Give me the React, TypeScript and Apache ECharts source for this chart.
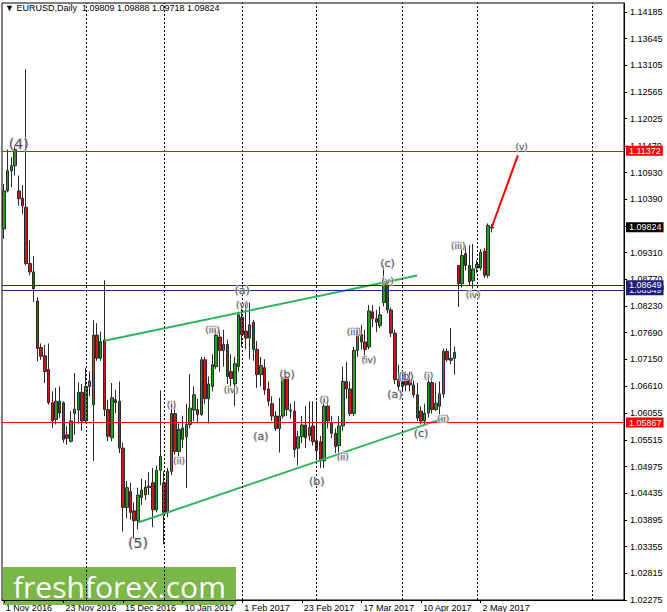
import React, { useEffect, useRef } from "react";
import * as echarts from "echarts";

const symbolName = "EURUSD,Daily";
const firstDay = [2016, 10, 1];
const holidays = ["2016-12-26", "2017-01-02"];
const totalSlots = 167;
const labelEvery = 16;

const opens = [
  1.0979, 1.1056, 1.1097, 1.1107, 1.1056, 1.1041, 1.1023, 1.0909, 1.0892, 1.0833,
  1.0739, 1.0722, 1.0694, 1.0627, 1.0593, 1.0630, 1.0627, 1.0562, 1.0549, 1.0605,
  1.0612, 1.0648, 1.0590, 1.0660, 1.0623, 1.0764, 1.0717, 1.0754, 1.0613, 1.0556,
  1.0633, 1.0630, 1.0535, 1.0415, 1.0447, 1.0408, 1.0388, 1.0435, 1.0440, 1.0455,
  1.0465, 1.0410, 1.0490, 1.0465, 1.0405, 1.0488, 1.0605, 1.0528, 1.0553, 1.0558,
  1.0583, 1.0612, 1.0613, 1.0603, 1.0714, 1.0635, 1.0660, 1.0700, 1.0760, 1.0733,
  1.0745, 1.0690, 1.0665, 1.0700, 1.0800, 1.0772, 1.0758, 1.0790, 1.0735, 1.0684,
  1.0698, 1.0655, 1.0625, 1.0600, 1.0575, 1.0600, 1.0677, 1.0610, 1.0610, 1.0535,
  1.0558, 1.0582, 1.0560, 1.0580, 1.0550, 1.0548, 1.0509, 1.0620, 1.0585, 1.0565,
  1.0540, 1.0580, 1.0670, 1.0655, 1.0605, 1.0733, 1.0765, 1.0750, 1.0740, 1.0811,
  1.0797, 1.0783, 1.0830, 1.0867, 1.0815, 1.0768, 1.0674, 1.0660, 1.0672, 1.0673,
  1.0663, 1.0643, 1.0610, 1.0590, 1.0606, 1.0668, 1.0613, 1.0620, 1.0645, 1.0731,
  1.0717, 1.0717, 1.0905, 1.0868, 1.0929, 1.0905, 1.0874, 1.0900, 1.0900, 1.0934,
  1.0885, 1.09809,
];
const highs = [
  1.1070, 1.1140, 1.1124, 1.1150, 1.1087, 1.1068, 1.1302, 1.0956, 1.0924, 1.0841,
  1.0747, 1.0744, 1.0747, 1.0650, 1.0657, 1.0660, 1.0630, 1.0580, 1.0610, 1.0687,
  1.0668, 1.0665, 1.0697, 1.0690, 1.0794, 1.0788, 1.0771, 1.0875, 1.0633, 1.0667,
  1.0653, 1.0670, 1.0546, 1.0468, 1.0465, 1.0425, 1.0455, 1.0473, 1.0470, 1.0486,
  1.0495, 1.0500, 1.0652, 1.0488, 1.0495, 1.0625, 1.0620, 1.0585, 1.0600, 1.0625,
  1.0685, 1.0660, 1.0635, 1.0720, 1.0720, 1.0680, 1.0725, 1.0775, 1.0775, 1.0775,
  1.0755, 1.0725, 1.0720, 1.0811, 1.0829, 1.0830, 1.0830, 1.0795, 1.0752, 1.0720,
  1.0715, 1.0670, 1.0640, 1.0610, 1.0637, 1.0680, 1.0680, 1.0625, 1.0630, 1.0570,
  1.0600, 1.0620, 1.0630, 1.0630, 1.0630, 1.0560, 1.0635, 1.0630, 1.0600, 1.0575,
  1.0600, 1.0700, 1.0710, 1.0670, 1.0740, 1.0780, 1.0785, 1.0775, 1.0825, 1.0825,
  1.0815, 1.0822, 1.0905, 1.0875, 1.0820, 1.0775, 1.0704, 1.0690, 1.0690, 1.0690,
  1.0672, 1.0667, 1.0620, 1.0625, 1.0678, 1.0677, 1.0667, 1.0670, 1.0737, 1.0737,
  1.0778, 1.0741, 1.0905, 1.0940, 1.0945, 1.0946, 1.0949, 1.0915, 1.0938, 1.0940,
  1.0990, 1.09888,
];
const lows = [
  1.0959, 1.1053, 1.1063, 1.1087, 1.1026, 1.1009, 1.0905, 1.0885, 1.0831, 1.0711,
  1.0714, 1.0667, 1.0623, 1.0576, 1.0583, 1.0596, 1.0546, 1.0542, 1.0546, 1.0562,
  1.0585, 1.0570, 1.0588, 1.0640, 1.0509, 1.0712, 1.0712, 1.0600, 1.0549, 1.0549,
  1.0606, 1.0525, 1.0366, 1.0393, 1.0390, 1.0352, 1.0370, 1.0420, 1.0430, 1.0440,
  1.0375, 1.0405, 1.0460, 1.0340, 1.0395, 1.0480, 1.0522, 1.0518, 1.0535, 1.0454,
  1.0575, 1.0590, 1.0585, 1.0600, 1.0625, 1.0585, 1.0650, 1.0695, 1.0690, 1.0700,
  1.0665, 1.0660, 1.0620, 1.0690, 1.0740, 1.0735, 1.0715, 1.0712, 1.0657, 1.0660,
  1.0643, 1.0620, 1.0590, 1.0570, 1.0526, 1.0595, 1.0600, 1.0595, 1.0516, 1.0500,
  1.0545, 1.0535, 1.0550, 1.0540, 1.0515, 1.0495, 1.0495, 1.0575, 1.0555, 1.0525,
  1.0525, 1.0570, 1.0635, 1.0600, 1.0600, 1.0720, 1.0735, 1.0715, 1.0735, 1.0780,
  1.0770, 1.0778, 1.0822, 1.0808, 1.0760, 1.0665, 1.0650, 1.0650, 1.0650, 1.0650,
  1.0637, 1.0590, 1.0583, 1.0583, 1.0597, 1.0605, 1.0610, 1.0603, 1.0637, 1.0710,
  1.0705, 1.0684, 1.0821, 1.0860, 1.0895, 1.0865, 1.0858, 1.0890, 1.0895, 1.0880,
  1.0880, 1.09718,
];
const closes = [
  1.1056, 1.1097, 1.1107, 1.1140, 1.1040, 1.1026, 1.0909, 1.0892, 1.0858, 1.0737,
  1.0721, 1.0690, 1.0627, 1.0590, 1.0630, 1.0606, 1.0553, 1.0555, 1.0590, 1.0614,
  1.0648, 1.0590, 1.0660, 1.0671, 1.0764, 1.0717, 1.0751, 1.0613, 1.0559, 1.0637,
  1.0627, 1.0535, 1.0415, 1.0455, 1.0405, 1.0388, 1.0440, 1.0450, 1.0456, 1.0458,
  1.0410, 1.0490, 1.0518, 1.0405, 1.0488, 1.0605, 1.0528, 1.0573, 1.0576, 1.0583,
  1.0616, 1.0643, 1.0603, 1.0714, 1.0635, 1.0665, 1.0704, 1.0764, 1.0733, 1.0745,
  1.0680, 1.0676, 1.0706, 1.0805, 1.0765, 1.0758, 1.0785, 1.0735, 1.0684, 1.0702,
  1.0653, 1.0630, 1.0600, 1.0575, 1.0600, 1.0677, 1.0613, 1.0612, 1.0532, 1.0558,
  1.0582, 1.0556, 1.0577, 1.0548, 1.0530, 1.0509, 1.0620, 1.0590, 1.0565, 1.0538,
  1.0580, 1.0670, 1.0655, 1.0605, 1.0733, 1.0765, 1.0750, 1.0735, 1.0813, 1.0797,
  1.0790, 1.0805, 1.0872, 1.0815, 1.0768, 1.0674, 1.0660, 1.0670, 1.0663, 1.0663,
  1.0643, 1.0596, 1.0590, 1.0606, 1.0668, 1.0613, 1.0626, 1.0645, 1.0731, 1.0714,
  1.0713, 1.0729, 1.0868, 1.0925, 1.0905, 1.0872, 1.0898, 1.0907, 1.0932, 1.0885,
  1.0986, 1.09824,
];

const priceTicks = [
  1.02275, 1.02815, 1.03355, 1.03895, 1.04435, 1.04975, 1.05515, 1.06055, 1.0661,
  1.0715, 1.0769, 1.0823, 1.0877, 1.0931, 1.0985, 1.1039, 1.1093, 1.1147, 1.12025,
  1.12565, 1.13105, 1.13645, 1.14185,
];
const hiddenTickLabels = [1.0985];
const yMin = 1.02274;
const yMax = 1.14366;

const redLevels = [1.11372, 1.05867];
const blueLevels = [1.08549, 1.08649];

const upperLineIdx = [27, 111];
const upperLineVal = [1.07525, 1.08845];
const lowerLineIdx = [36, 118];
const lowerLineVal = [1.03843, 1.05952];
const targetLineIdx = [131, 138];
const targetLineVal = [1.09824, 1.1128];

const waveText = [
  "(4)", "(5)", "(a)", "(v)", "(iii)", "(iv)", "(i)", "(ii)", "(a)", "(b)",
  "(b)", "(i)", "(ii)", "(iii)", "(iv)", "(c)", "(v)", "(a)", "(b)", "(c)",
  "(i)", "(ii)", "(iii)", "(iv)", "(v)",
];
const waveIdx = [
  4, 36, 64, 64, 56, 61, 45, 47, 69, 76,
  84, 86, 91, 94, 98, 103, 103, 105, 108, 112,
  114, 118, 122, 126, 139,
];
const wavePrice = [
  1.1151, 1.0342, 1.0855, 1.0825, 1.0774, 1.0653, 1.0623, 1.0509, 1.0558, 1.0685,
  1.0467, 1.0633, 1.0518, 1.0770, 1.0713, 1.0909, 1.0874, 1.0643, 1.0680, 1.0564,
  1.0682, 1.0593, 1.0944, 1.0845, 1.1144,
];

const MONTHS = ["Jan", "Feb", "Mar", "Apr", "May", "Jun", "Jul", "Aug", "Sep", "Oct", "Nov", "Dec"];

function buildDates(): string[] {
  const out: string[] = [];
  const d = new Date(Date.UTC(firstDay[0], firstDay[1], firstDay[2]));
  while (out.length < opens.length) {
    const wd = d.getUTCDay();
    const s = d.toISOString().slice(0, 10);
    if (wd !== 0 && wd !== 6 && holidays.indexOf(s) < 0) out.push(s);
    d.setUTCDate(d.getUTCDate() + 1);
  }
  while (out.length < totalSlots) {
    out.push(d.toISOString().slice(0, 10));
    d.setUTCDate(d.getUTCDate() + 1);
  }
  return out;
}

function fmtDate(s: string): string {
  const [y, m, d] = s.split("-").map((v) => parseInt(v, 10));
  return `${d} ${MONTHS[m - 1]} ${y}`;
}

const FONT = "Liberation Sans, Arial, sans-serif";

export default function App() {
  const ref = useRef<HTMLDivElement>(null);
  useEffect(() => {
    document.body.style.margin = "0";
    if (!ref.current) return;
    const chart = echarts.init(ref.current, null, { renderer: "svg" });
    const dates = buildDates();
    const n = opens.length;
    const monthStarts: number[] = [];
    for (let i = 1; i < dates.length; i++) {
      if (dates[i].slice(5, 7) !== dates[i - 1].slice(5, 7)) monthStarts.push(i);
    }
    const showLabel = (i: number) => i % labelEvery === 0 && i < n;
    const last = n - 1;
    const header = `▼ ${symbolName}  ${opens[last].toFixed(5)} ${highs[last].toFixed(5)} ${lows[last].toFixed(5)} ${closes[last].toFixed(5)}`;

    const priceLabel = (v: number, bg: string) => ({
      show: true,
      position: "end",
      formatter: v.toFixed(5),
      backgroundColor: bg,
      color: "#fff",
      fontSize: 9,
      fontFamily: FONT,
      lineHeight: 10,
      padding: [0, 2, 0, 3],
      distance: 2,
    });

    const nulls = dates.map(() => null);
    const waveSize = (t: string) => (t === "(4)" || t === "(5)" ? 14 : /^\([abc]\)$/.test(t) ? 11 : 9);

    const option: any = {
      animation: false,
      backgroundColor: "#ffffff",
      textStyle: { fontFamily: FONT },
      title: {
        text: header,
        left: 5,
        top: 3,
        padding: 0,
        textStyle: { fontSize: 9, fontWeight: "normal", color: "#000", fontFamily: FONT },
      },
      grid: { left: 2, right: 43, top: 3, bottom: 9, show: true, borderColor: "#000", borderWidth: 1 },
      xAxis: {
        type: "category",
        data: dates,
        boundaryGap: true,
        axisLine: { lineStyle: { color: "#000", width: 1 } },
        axisTick: { show: true, alignWithLabel: true, interval: (i: number) => showLabel(i), length: 3, lineStyle: { color: "#000" } },
        axisLabel: {
          interval: (i: number) => showLabel(i),
          formatter: (v: string) => fmtDate(v),
          fontSize: 9,
          color: "#000",
          align: "left",
          margin: 3,
          padding: [0, 0, 0, 2],
          fontFamily: FONT,
        },
        splitLine: { show: false },
      },
      yAxis: {
        type: "value",
        position: "right",
        min: yMin,
        max: yMax,
        scale: true,
        axisLine: { show: true, lineStyle: { color: "#000", width: 1 } },
        axisTick: { show: true, length: 3, customValues: priceTicks, lineStyle: { color: "#000" } },
        axisLabel: {
          customValues: priceTicks.filter((v) => hiddenTickLabels.indexOf(v) < 0),
          formatter: (v: number) => v.toFixed(5),
          fontSize: 9,
          color: "#000",
          margin: 6,
          fontFamily: FONT,
        },
        splitLine: { show: false },
      },
      series: [
        {
          type: "line",
          data: nulls,
          z: 1,
          silent: true,
          markLine: {
            silent: true,
            symbol: "none",
            label: { show: false },
            lineStyle: { color: "#000", width: 1, type: [2, 2] },
            data: monthStarts.map((i) => ({ xAxis: dates[i] })),
          },
        },
        {
          type: "candlestick",
          data: opens.map((o, i) => [o, closes[i], lows[i], highs[i]]),
          barWidth: 3,
          z: 2,
          itemStyle: {
            color: "#23a023",
            color0: "#c81818",
            borderColor: "#2a2a2a",
            borderColor0: "#2a2a2a",
            borderWidth: 1,
          },
        },
        {
          type: "line",
          data: nulls,
          z: 3,
          silent: true,
          markLine: {
            silent: true,
            symbol: "none",
            precision: 5,
            data: [
              ...redLevels.map((v) => ({ yAxis: v, lineStyle: { color: "#ff0000", width: 1, type: "solid" }, label: priceLabel(v, "#ff0000") })),
              ...blueLevels.map((v) => ({ yAxis: v, lineStyle: { color: "#24248a", width: 1, type: "solid" }, label: priceLabel(v, "#1e1e7a") })),
              { yAxis: closes[last], lineStyle: { color: "rgba(0,0,0,0)", width: 1, type: "solid" }, label: priceLabel(closes[last], "#000") },
            ],
          },
        },
        {
          type: "line",
          data: upperLineIdx.map((i, k) => [i, upperLineVal[k]]),
          symbol: "none",
          z: 4,
          lineStyle: { color: "#2fb55e", width: 2 },
        },
        {
          type: "line",
          data: lowerLineIdx.map((i, k) => [i, lowerLineVal[k]]),
          symbol: "none",
          z: 4,
          lineStyle: { color: "#2fb55e", width: 2 },
        },
        {
          type: "line",
          data: targetLineIdx.map((i, k) => [i, targetLineVal[k]]),
          symbol: "none",
          z: 4,
          lineStyle: { color: "#ff0000", width: 2 },
        },
        {
          type: "scatter",
          z: 5,
          symbolSize: 1,
          itemStyle: { color: "rgba(0,0,0,0)" },
          data: waveText.map((t, k) => ({
            name: t,
            value: [waveIdx[k], wavePrice[k]],
            label: { fontSize: waveSize(t) },
          })),
          label: {
            show: true,
            position: "inside",
            formatter: (p: any) => p.name,
            color: "#262636",
            fontFamily: "DejaVu Sans, sans-serif",
            textBorderColor: "rgba(225,225,225,0.9)",
            textBorderWidth: 2,
          },
        },
      ],
      graphic: [
        {
          type: "group",
          x: 3,
          y: 567,
          z: 100,
          children: [
            { type: "rect", shape: { x: 0, y: 0, width: 233, height: 38 }, style: { fill: "#7ab648" } },
            {
              type: "text",
              x: 10,
              y: 19,
              style: {
                text: "freshforex.com",
                fill: "#ffffff",
                fontSize: 30,
                fontFamily: "Open Sans, sans-serif",
                verticalAlign: "middle",
                align: "left",
              },
            },
          ],
        },
      ],
    };
    chart.setOption(option);
    return () => chart.dispose();
  }, []);
  return <div ref={ref} style={{ width: 667, height: 612 }} />;
}
